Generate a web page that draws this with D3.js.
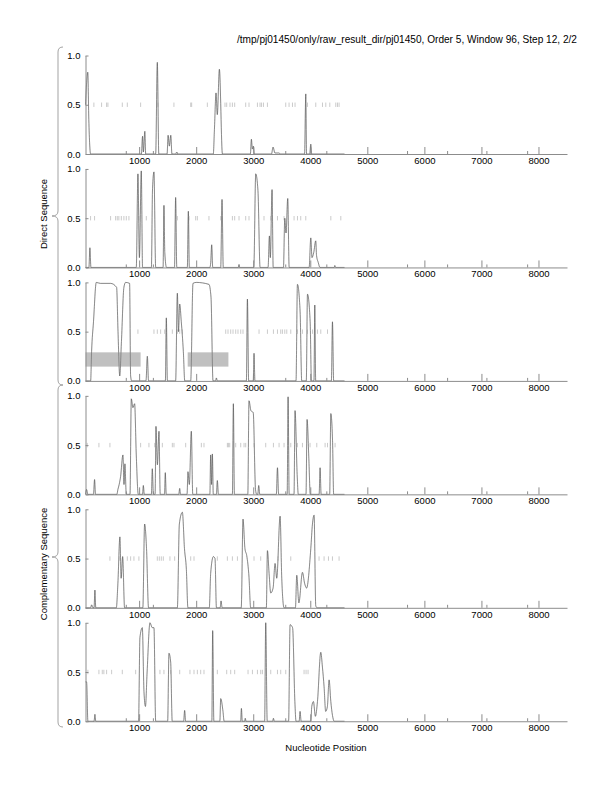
<!DOCTYPE html>
<html>
<head>
<meta charset="utf-8">
<script src="https://cdn.jsdelivr.net/npm/d3@7"></script>
<style>
  body { margin: 0; background: #fff; }
  svg text { font-family: "Liberation Sans", Arial, Helvetica, sans-serif; }
</style>
</head>
<body>
<div id="chart"></div>
<script>
// values (nucleotide position, score)
var xTicks = [1000, 2000, 3000, 4000, 5000, 6000, 7000, 8000];
var minorMarks = [775, 1250, 3570, 4290, 5705, 6407, 7096, 7810];
var yTicks = [0, 0.5, 1];

var trace1 = [[60,0.5],[100,0.83],[118,0.35],[150,0],[1040,0],[1060,0.18],[1075,0.02],[1100,0.23],[1115,0],
  [1290,0],[1319,0.93],[1345,0],[1490,0],[1508,0.19],[1530,0.08],[1555,0.19],[1575,0],[1640,0],[1660,0.02],[1680,0],
  [2300,0],[2320,0.25],[2348,0.62],[2370,0.4],[2407,0.86],[2460,0],[2950,0],[2968,0.15],[2985,0.05],[3003,0.08],[3020,0],
  [3320,0],[3348,0.07],[3380,0.01],[3450,0.01],[3480,0],[3900,0],[3921,0.61],[3935,0],[3990,0],[4009,0.1],[4025,0],[4600,0]];
var trace2 = [[60,0],[120,0],[137,0.2],[155,0],[950,0],[979,0.95],[1005,0.1],[1038,0.98],[1060,0],[1215,0],[1235,0.8],
  [1260,0.97],[1290,0],[1420,0],[1435,0.63],[1450,0.15],[1480,0],[1620,0],[1640,0.71],[1660,0],[1845,0],[1863,0.57],[1880,0],
  [2240,0],[2255,0.05],[2272,0.23],[2290,0],[2430,0],[2453,0.69],[2475,0],[2740,0],[2751,0.03],[2760,0],[3010,0],[3044,0.95],
  [3083,0.78],[3120,0],[3260,0],[3284,0.32],[3300,0.1],[3330,0.79],[3350,0],[3530,0],[3553,0.5],[3575,0.35],[3605,0.7],[3630,0],
  [3980,0],[4009,0.3],[4030,0.1],[4060,0.15],[4096,0.27],[4110,0.12],[4140,0.05],[4170,0],[4420,0],[4430,0.02],[4445,0],[4600,0]];
var trace3 = [[60,0],[150,0],[167,0.3],[200,0.6],[249,1.0],[320,0.99],[500,0.99],[605,0.95],[630,0.5],[660,0.05],[690,0.4],
  [733,0.95],[763,1.0],[833,0.99],[851,0.05],[870,0],[1120,0],[1144,0.25],[1165,0],[1460,0],[1477,0.64],[1495,0],[1640,0],
  [1670,0.89],[1690,0.5],[1711,0.78],[1739,0.6],[1775,0.3],[1800,0],[1904,0],[1944,0.99],[2000,1.0],[2224,0.98],[2260,0.85],
  [2295,0],[2340,0],[2354,0.03],[2370,0],[2880,0],[2898,0.83],[2920,0],[3000,0],[3014,0.28],[3030,0],[3750,0],[3775,0.98],
  [3822,0.7],[3850,0],[3930,0],[3951,0.88],[3998,0.6],[4020,0],[4065,0],[4079,0.77],[4095,0],[4370,0],[4389,0.6],[4410,0],[4600,0]];
var trace4 = [[60,0],[79,0.05],[100,0],[200,0],[219,0.15],[235,0],[610,0],[628,0.05],[650,0.1],[675,0.18],[716,0.4],[735,0.1],
  [751,0.31],[775,0],[840,0],[863,0.97],[891,0.88],[921,0.92],[950,0.4],[985,0],[1060,0],[1074,0.09],[1090,0],[1215,0],
  [1231,0.26],[1250,0],[1280,0],[1295,0.69],[1320,0.3],[1348,0.64],[1370,0],[1445,0],[1459,0.22],[1475,0],[1695,0],[1711,0.06],
  [1725,0],[1840,0],[1856,0.23],[1880,0.1],[1915,0.64],[1940,0],[2240,0],[2254,0.4],[2270,0.1],[2284,0.41],[2300,0],[2355,0],
  [2371,0.14],[2390,0],[2635,0],[2652,0.92],[2670,0],[2905,0],[2926,0.95],[2960,0.85],[3000,0.83],[3040,0.05],[3060,0],[3080,0],
  [3096,0.09],[3115,0],[3405,0],[3425,0.27],[3445,0],[3595,0],[3611,0.99],[3630,0],[3715,0],[3733,0.85],[3770,0.2],[3790,0],
  [3925,0],[3944,0.76],[3975,0.36],[4000,0],[4155,0],[4172,0.27],[4190,0],[4340,0],[4360,0.82],[4390,0.55],[4410,0],[4600,0]];
var trace5 = [[60,0],[150,0],[167,0.03],[190,0],[210,0],[225,0.18],[240,0],[600,0],[628,0.25],[663,0.72],[685,0.3],[711,0.52],
  [745,0],[1065,0],[1096,0.85],[1130,0.6],[1165,0],[1670,0],[1705,0.85],[1758,0.97],[1795,0.6],[1828,0.39],[1855,0],[2230,0],
  [2254,0.35],[2301,0.52],[2330,0.5],[2355,0],[2420,0],[2436,0.07],[2455,0],[2790,0],[2821,0.9],[2855,0.6],[2886,0.53],
  [2926,0.31],[2955,0],[3230,0],[3249,0.58],[3278,0.35],[3307,0.15],[3348,0.2],[3383,0.45],[3412,0.3],[3471,0.93],[3500,0.3],
  [3540,0],[3740,0],[3763,0.33],[3800,0.05],[3863,0.36],[3900,0.25],[3935,0.2],[4009,0.6],[4038,0.85],[4067,0.94],[4096,0.02],
  [4120,0],[4600,0]];
var trace6 = [[60,0.4],[79,0.4],[102,0],[210,0],[225,0.07],[240,0],[990,0],[1014,0.85],[1056,0.95],[1085,0.3],[1111,0.15],
  [1140,0.5],[1190,1.0],[1230,0.95],[1260,0.95],[1290,0],[1500,0],[1523,0.69],[1553,0.6],[1580,0],[1780,0],[1798,0.11],[1815,0],
  [2275,0],[2289,0.92],[2310,0],[2415,0],[2430,0.23],[2470,0.1],[2490,0],[2780,0],[2793,0.13],[2808,0],[2850,0],[2860,0.03],
  [2875,0],[3200,0],[3219,1.0],[3245,0],[3340,0],[3354,0.03],[3370,0],[3620,0],[3646,0.98],[3690,0.95],[3730,0.2],[3750,0],
  [3805,0],[3821,0.1],[3840,0],[4010,0],[4026,0.15],[4055,0.2],[4090,0.05],[4126,0.2],[4184,0.7],[4213,0.55],[4242,0.35],
  [4270,0.1],[4300,0.15],[4330,0.42],[4360,0.2],[4389,0.06],[4420,0],[4600,0]];

// little marks drawn on the 0.5 line
var dashes1 = [207,342,430,453,705,793,1026,1330,1610,1904,1921,2196,2505,2535,2593,2635,2675,2868,2926,3074,3119,3144,
  3179,3249,3570,3628,3688,3733,3951,4096,4214,4272,4342,4447,4477,4505];
var dashes2 = [149,219,500,588,617,645,688,733,775,821,996,1126,1435,1670,1874,1991,2021,2224,2430,2635,2675,2751,2868,
  2926,3189,3307,3425,3540,3716,3776,3833,3921,4360,4535];
var dashes3 = [979,1260,1319,1377,1447,1582,1670,1711,1758,2518,2558,2605,2646,2693,2733,2781,2821,3102,3249,3354,3425,
  3482,3512,3553,3588,3658,3775,3863,3951,4039,4126,4184,4302];
var dashes4 = [91,295,488,1026,1172,1272,1407,1582,1611,1816,2091,2137,2547,2565,2588,2693,2781,2839,2868,3014,3219,3354,
  3453,3540,3658,3775,3863,3996,4114,4260,4302,4435];
var dashes5 = [488,663,793,851,909,996,1319,1354,1389,1424,1540,1623,1904,1962,2371,2547,2635,2723,3014,3131,3435,3658,
  4154,4242,4319,4389,4505];
var dashes6 = [102,295,354,382,430,518,705,939,1365,1435,1553,1711,1891,1962,2021,2079,2137,2371,2535,2605,2675,2909,2986,
  3074,3131,3161,3307,3425,3482,3570,3891,3926,3961];

// shaded bands in the third panel: [from, to, low, high]
var shaded3 = [[60, 1026, 0.145, 0.29], [1851, 2565, 0.145, 0.29]];

var traces = [trace1, trace2, trace3, trace4, trace5, trace6];
var dashes = [dashes1, dashes2, dashes3, dashes4, dashes5, dashes6];
var shaded = [[], [], shaded3, [], [], []];

var groups = [
  { label: "Direct Sequence", top: 47, bottom: 385, mid: 216, textMid: 214 },
  { label: "Complementary Sequence", top: 385, bottom: 727, mid: 557, textMid: 564 }
];

var width = 612, height = 792;
var panelTop = 55.5, panelStep = 113.45, panelH = 98.5;
var gray = "#8c8c8c";

var svg = d3.select("#chart").append("svg")
  .attr("width", width)
  .attr("height", height);

var x = d3.scaleLinear().domain([60, 8500]).range([85.5, 567]);

svg.append("text")
  .attr("x", 577).attr("y", 43)
  .attr("text-anchor", "end")
  .attr("font-size", 10.1)
  .text("/tmp/pj01450/only/raw_result_dir/pj01450, Order 5, Window 96, Step 12, 2/2");

traces.forEach(function(trace, i) {
  var y0 = panelTop + i * panelStep;
  var y = d3.scaleLinear().domain([0, 1]).range([y0 + panelH, y0]);
  var g = svg.append("g");

  g.selectAll("rect.band").data(shaded[i]).enter().append("rect")
    .attr("class", "band")
    .attr("x", function(d) { return x(d[0]); })
    .attr("width", function(d) { return x(d[1]) - x(d[0]); })
    .attr("y", function(d) { return y(d[3]); })
    .attr("height", function(d) { return y(d[2]) - y(d[3]); })
    .attr("fill", "#c0c0c0");

  g.selectAll("line.dash").data(dashes[i]).enter().append("line")
    .attr("class", "dash")
    .attr("x1", function(d) { return x(d); })
    .attr("x2", function(d) { return x(d); })
    .attr("y1", y(0.5) - 2.2)
    .attr("y2", y(0.5) + 2.2)
    .attr("stroke", "#b4b4b4")
    .attr("stroke-width", 0.7);

  // x axis, ticks pointing up into the plot
  var xa = g.append("g")
    .attr("transform", "translate(0," + y(0) + ")")
    .call(d3.axisBottom(x).tickValues(xTicks).tickSize(-7).tickSizeOuter(0)
      .tickPadding(3).tickFormat(d3.format("d")));
  xa.select(".domain").attr("stroke", gray);
  xa.selectAll(".tick line").attr("stroke", gray);
  xa.selectAll("text").attr("font-size", 9.5).attr("fill", "#000");

  g.selectAll("line.minor").data(minorMarks).enter().append("line")
    .attr("class", "minor")
    .attr("x1", function(d) { return x(d); })
    .attr("x2", function(d) { return x(d); })
    .attr("y1", y(0))
    .attr("y2", y(0) - 3)
    .attr("stroke", gray);

  var ya = g.append("g")
    .attr("transform", "translate(" + x(60) + ",0)")
    .call(d3.axisLeft(y).tickValues(yTicks).tickSize(-3).tickSizeOuter(0)
      .tickPadding(5).tickFormat(d3.format(".1f")));
  ya.select(".domain").attr("stroke", gray);
  ya.selectAll(".tick line").attr("stroke", gray);
  ya.selectAll("text").attr("font-size", 9.5).attr("fill", "#000");

  var line = d3.line()
    .x(function(d) { return x(d[0]); })
    .y(function(d) { return y(d[1]); })
    .curve(d3.curveMonotoneX);

  g.append("path").datum(trace)
    .attr("d", line)
    .attr("fill", "none")
    .attr("stroke", "#bbb")
    .attr("stroke-width", 0.9);
  g.append("path").datum(trace)
    .attr("d", line)
    .attr("fill", "none")
    .attr("stroke", "#222")
    .attr("stroke-width", 0.35);
});

// curly braces grouping the panels
groups.forEach(function(b) {
  var bx = 58, tip = 52, end = 63, r = 5;
  var p = d3.path();
  p.moveTo(end, b.top);
  p.quadraticCurveTo(bx, b.top, bx, b.top + r);
  p.lineTo(bx, b.mid - r);
  p.quadraticCurveTo(bx, b.mid, tip, b.mid);
  p.quadraticCurveTo(bx, b.mid, bx, b.mid + r);
  p.lineTo(bx, b.bottom - r);
  p.quadraticCurveTo(bx, b.bottom, end, b.bottom);
  svg.append("path")
    .attr("d", p.toString())
    .attr("fill", "none")
    .attr("stroke", "#999")
    .attr("stroke-width", 0.9);

  svg.append("text")
    .attr("transform", "translate(46.5," + b.textMid + ") rotate(-90)")
    .attr("text-anchor", "middle")
    .attr("font-size", 9.5)
    .text(b.label);
});

svg.append("text")
  .attr("x", 326).attr("y", 751)
  .attr("text-anchor", "middle")
  .attr("font-size", 9.5)
  .text("Nucleotide Position");
</script>
</body>
</html>
